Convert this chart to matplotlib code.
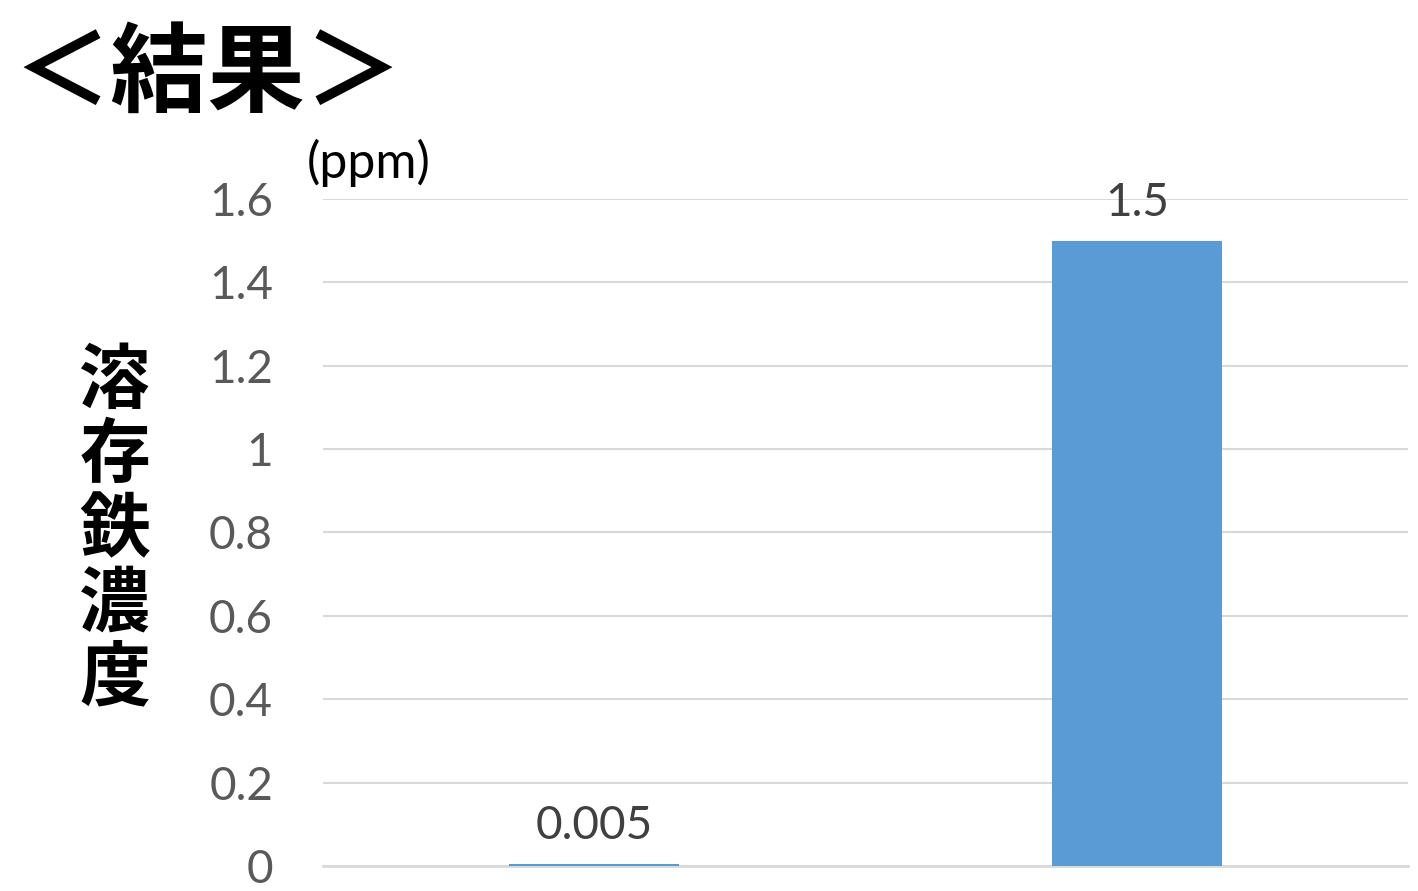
import matplotlib
matplotlib.use("Agg")
import matplotlib.pyplot as plt

categories = ["A", "B"]
values = [0.005, 1.5]
value_labels = ["0.005", "1.5"]
yticks = [0, 0.2, 0.4, 0.6, 0.8, 1.0, 1.2, 1.4, 1.6]
ytick_labels = ["0", "0.2", "0.4", "0.6", "0.8", "1", "1.2", "1.4", "1.6"]

plt.rcParams['font.family'] = ['Lato', 'Noto Sans CJK JP', 'DejaVu Sans']

fig = plt.figure(figsize=(14.18, 8.91), dpi=100)
ax = fig.add_axes([0.2278, 0.02806, 0.993 - 0.2278, 0.7767 - 0.02806])

x = list(range(len(categories)))
ax.bar(x, values, width=0.313, color="#5b9bd5", zorder=3)
ax.set_xlim(-0.5, 1.5)
ax.set_ylim(0, 1.6)
ax.set_yticks(yticks)
ax.set_yticklabels(ytick_labels, fontsize=33, color="#595959")
ax.set_xticks([])
ax.tick_params(axis='y', length=0, pad=36)
ax.yaxis.grid(True, color="#d9d9d9", linewidth=1.5, zorder=0)
for s in ["top", "right", "left"]:
    ax.spines[s].set_visible(False)
ax.spines["bottom"].set_color("#d9d9d9")
ax.spines["bottom"].set_linewidth(2)

for xi, v, t in zip(x, values, value_labels):
    ax.annotate(t, (xi, v), xytext=(0, 12), textcoords="offset points",
                ha="center", va="bottom", fontsize=33, color="#404040")

fig.text(0.009, 0.915, "＜結果＞", fontsize=70, fontweight="bold",
         family=['Noto Sans CJK JP'], ha="left", va="center", color="black")
fig.text(0.216, 0.817, "(ppm)", fontsize=36, ha="left", va="center", color="black")
fig.text(0.081, 0.405, "\n".join("溶存鉄濃度"), fontsize=51, fontweight="bold",
         family=['Noto Sans CJK JP'], ha="center", va="center", linespacing=1.04,
         color="black")

fig.savefig("out.png", dpi=100)
